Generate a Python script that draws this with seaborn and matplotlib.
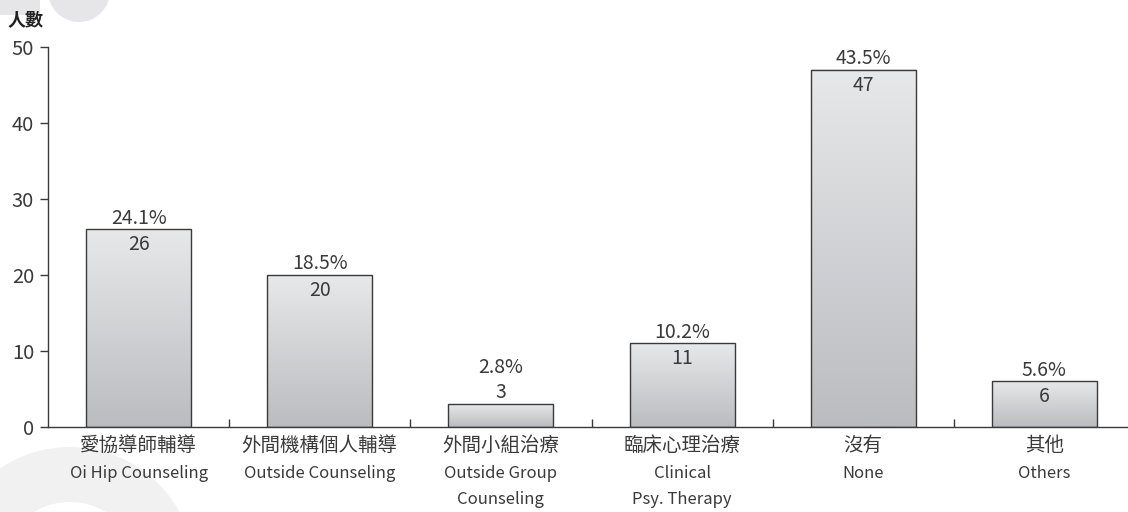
import numpy as np
import pandas as pd
import matplotlib
matplotlib.use("Agg")
import matplotlib.pyplot as plt
from matplotlib.colors import LinearSegmentedColormap
from matplotlib.patches import Circle, Rectangle
import seaborn as sns

categories_zh = ["愛協導師輔導", "外間機構個人輔導", "外間小組治療", "臨床心理治療", "沒有", "其他"]
categories_en = [["Oi Hip Counseling"], ["Outside Counseling"], ["Outside Group", "Counseling"],
                 ["Clinical", "Psy. Therapy"], ["None"], ["Others"]]
counts = [26, 20, 3, 11, 47, 6]
percents = ["24.1%", "18.5%", "2.8%", "10.2%", "43.5%", "5.6%"]
y_ticks = [0, 10, 20, 30, 40, 50]
y_label = "人數"

sns.set_theme(style="white")
plt.rcParams["font.family"] = ["Noto Sans CJK TC", "DejaVu Sans"]
TXT = "#3a3a3a"
NUM_FONT = ["Noto Sans CJK TC", "DejaVu Sans"]

df = pd.DataFrame({"cat": categories_zh, "n": counts})

W, H = 1128, 512
fig = plt.figure(figsize=(W / 100, H / 100), dpi=100)

# decorative background shapes
fig.patches.append(Rectangle((0, 1 - 15 / H), 40 / W, 15 / H, transform=fig.transFigure,
                             facecolor="#e6e6e8", edgecolor="none", zorder=-5))
fig.patches.append(Circle((79, H + 9), 31, transform=None, facecolor="#e6e6e8",
                          edgecolor="none", zorder=-5))
fig.patches.append(Circle((70, -60), 125, transform=None, facecolor="#f1f1f2",
                          edgecolor="none", zorder=-5))
fig.patches.append(Circle((70, -60), 70, transform=None, facecolor="white",
                          edgecolor="none", zorder=-4))

ax_bottom = 427
ax_h = 380
ax = fig.add_axes([48 / W, 1 - ax_bottom / H, 1087 / W, ax_h / H])
ax.patch.set_alpha(0)

sns.barplot(data=df, x="cat", y="n", ax=ax, width=0.58, color="white",
            edgecolor="#3a3a3a", linewidth=1.0, zorder=3)

# vertical gradient fill inside each bar
cmap = LinearSegmentedColormap.from_list("bargrad", ["#bbbcbf", "#e7e8ea"])
grad = np.linspace(0, 1, 256).reshape(-1, 1)
for p in ax.patches:
    x0, y0 = p.get_x(), p.get_y()
    w, h = p.get_width(), p.get_height()
    ax.imshow(grad, cmap=cmap, origin="lower", aspect="auto",
              extent=(x0, x0 + w, y0, y0 + h), zorder=2)
    p.set_facecolor("none")

# value labels: count inside the bar top, share above; short bars get both above
for i, (c, pct) in enumerate(zip(counts, percents)):
    if c < 5:
        pct_off, cnt_off = 26.5, 8.5
    else:
        pct_off, cnt_off = 8, -11
    ax.annotate(pct, (i, c), xytext=(0, pct_off), textcoords="offset points",
                ha="center", va="center", fontsize=14, color=TXT,
                family=NUM_FONT, fontweight="light")
    ax.annotate(str(c), (i, c), xytext=(0, cnt_off), textcoords="offset points",
                ha="center", va="center", fontsize=14, color=TXT,
                family=NUM_FONT, fontweight="light")

ax.set_xlim(-0.5, 5.5)
ax.set_ylim(0, 50)
ax.set_yticks(y_ticks)
ax.set_xlabel("")
ax.set_ylabel("")
ax.set_xticks(range(len(categories_zh)))
ax.set_xticklabels([])
ax.tick_params(axis="y", direction="out", length=6, width=1, color=TXT,
               labelsize=14.5, labelcolor=TXT, pad=4, left=True)
for lbl in ax.get_yticklabels():
    lbl.set_fontweight("light")
ax.tick_params(axis="x", which="major", length=0)
ax.set_xticks(np.arange(0.5, 5.5, 1.0), minor=True)
ax.tick_params(axis="x", which="minor", direction="in", length=6, width=1, color=TXT, bottom=True)

# two-language category labels
trans = ax.get_xaxis_transform()
for i, (zh, en_lines) in enumerate(zip(categories_zh, categories_en)):
    ax.text(i, -18 / ax_h, zh, transform=trans, ha="center", va="center",
            fontsize=14, color=TXT, fontweight="light", family=NUM_FONT)
    for j, line in enumerate(en_lines):
        ax.text(i, -(46 + 26 * j) / ax_h, line, transform=trans, ha="center", va="center",
                fontsize=12, color=TXT, family=NUM_FONT)

for s in ["top", "right"]:
    ax.spines[s].set_visible(False)
for s in ["left", "bottom"]:
    ax.spines[s].set_color(TXT)
    ax.spines[s].set_linewidth(1.0)

fig.text(8 / W, 1 - 20 / H, y_label, fontsize=13, fontweight="bold",
         color="#222222", ha="left", va="center")

fig.savefig("out.png", dpi=100)
